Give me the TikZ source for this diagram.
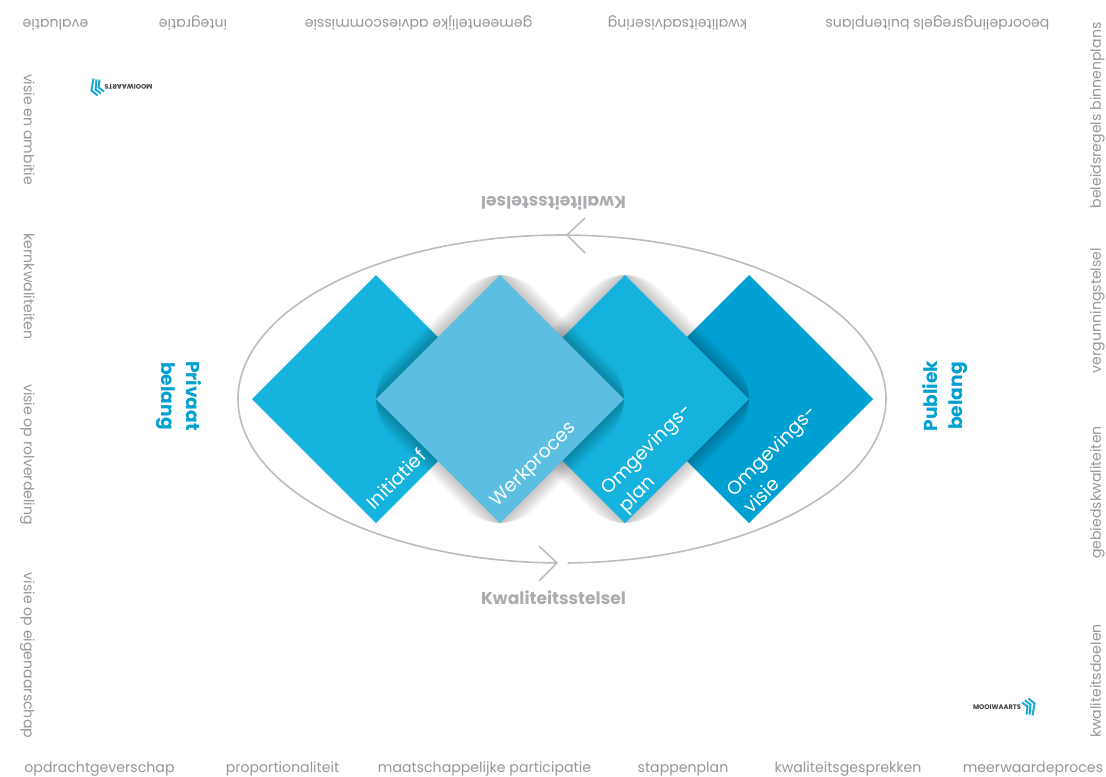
\documentclass[tikz,border=0pt]{standalone}
\usepackage{fontspec}
\setmainfont{Poppins}
\usetikzlibrary{shapes.geometric}
\definecolor{cyanA}{HTML}{14B2DC}
\definecolor{cyanB}{HTML}{5CBFE1}
\definecolor{cyanC}{HTML}{00A0D3}
\definecolor{ringgray}{HTML}{BDBDBD}
\definecolor{boldgray}{HTML}{ABABB0}
\definecolor{edgegray}{HTML}{969696}
\definecolor{logoblue}{HTML}{1AA7D6}
\tikzset{
  ruit/.style={shape=diamond,aspect=1,inner sep=0pt,outer sep=0pt,minimum width=186pt,minimum height=186pt},
  edgetxt/.style={text=edgegray,font=\fontsize{10.6}{12}\selectfont,inner sep=0pt,text height=8pt,text depth=2.5pt},
  topedge/.style={edgetxt,rotate=180},
  leftedge/.style={edgetxt,rotate=-90},
  rightedge/.style={edgetxt,rotate=90},
  ruitlabel/.style={text=white,font=\fontsize{14.1}{18.7}\selectfont,rotate=45,align=left,inner sep=0pt},
  sidelabel/.style={text=cyanC,font=\fontsize{14}{18.5}\selectfont\bfseries,align=center,inner sep=0pt},
  stelsel/.style={text=boldgray,font=\fontsize{12.85}{15}\selectfont\bfseries,inner sep=0pt},
  ring/.style={draw=ringgray,line width=1.2pt},
  ringhead/.style={draw=ringgray,line width=1.2pt,line join=miter},
  softshade/.style={fill=black,opacity=0.022},
  logotxt/.style={text=black!75,font=\fontsize{5}{5}\selectfont\bfseries,inner sep=0pt},
  chev/.style={draw=logoblue,line width=1.5pt}
}
\newcommand{\softshadow}[2]{%
  \foreach \d in {1,3,...,21}{%
    \fill[softshade,rounded corners=1.8*\d pt] (#1-124-\d,#2) -- (#1,#2-124-\d) -- (#1+124+\d,#2) -- (#1,#2+124+\d) -- cycle;
  }%
}
\begin{document}
\begin{tikzpicture}[x=0.75pt,y=-0.75pt]
\useasboundingbox (0,0) rectangle (1106,776);
% ring
\draw[ring] plot[domain=-89:89,samples=120] ({562+324*cos(\x)},{399+164*sin(\x)});
\draw[ring] plot[domain=91:271,samples=120] ({562+324*cos(\x)},{399+164*sin(\x)});
\coordinate (topTip) at (567,235);
\coordinate (topA) at (585,218);
\coordinate (topB) at (585,253);
\coordinate (botTip) at (557,563);
\coordinate (botA) at (539,546);
\coordinate (botB) at (539,581);
\draw[ringhead] (topA) -- (topTip) -- (topB);
\draw[ringhead] (botA) -- (botTip) -- (botB);
% diamonds
\node[ruit,fill=cyanC] (d4) at (749,399) {};
\softshadow{625}{399}
\node[ruit,fill=cyanA] (d3) at (625,399) {};
\node[ruit,fill=cyanA] (d1) at (376,399) {};
\softshadow{500}{399}
\node[ruit,fill=cyanB] (d2) at (500,399) {};
\node[ruitlabel] (l1) at (396,479) {Initiatief};
\node[ruitlabel] (l2) at (534,465) {Werkproces};
\node[ruitlabel] (l3) at (656,459) {Omgevings-\\plan};
\node[ruitlabel] (l4) at (780,459) {Omgevings-\\visie};
% side labels
\node[sidelabel,rotate=-90] (priv) at (179,396) {Privaat\\belang};
\node[sidelabel,rotate=90] (publ) at (945,396) {Publiek\\belang};
\node[stelsel] (ks1) at (553.5,598) {Kwaliteitsstelsel};
\node[stelsel,rotate=180] (ks2) at (553.5,203.5) {Kwaliteitsstelsel};
% top
\node[topedge] (t1) at (55.5,22.7) {evaluatie};
\node[topedge] (t2) at (193,22.7) {integratie};
\node[topedge] (t3) at (418.5,22.7) {gemeentelijke adviescommissie};
\node[topedge] (t4) at (677.5,22.7) {kwaliteitsadvisering};
\node[topedge] (t5) at (937.5,22.7) {beoordelingsregels buitenplans};
% bottom
\node[edgetxt] (b1) at (99.5,769.3) {opdrachtgeverschap};
\node[edgetxt] (b2) at (282.5,769.3) {proportionaliteit};
\node[edgetxt] (b3) at (484.5,769.3) {maatschappelijke participatie};
\node[edgetxt] (b4) at (683,769.3) {stappenplan};
\node[edgetxt] (b5) at (848,769.3) {kwaliteitsgesprekken};
\node[edgetxt] (b6) at (1033,769.3) {meerwaardeproces};
% left
\node[leftedge] (le1) at (27.5,129.5) {visie en ambitie};
\node[leftedge] (le2) at (27.5,286.5) {kernkwaliteiten};
\node[leftedge] (le3) at (27.5,454.5) {visie op rolverdeling};
\node[leftedge] (le4) at (27.5,655.5) {visie op eigenaarschap};
% right
\node[rightedge] (r1) at (1097.3,115.5) {beleidsregels binnenplans};
\node[rightedge] (r2) at (1097.3,310.5) {vergunningstelsel};
\node[rightedge] (r3) at (1097.3,492.5) {gebiedskwaliteiten};
\node[rightedge] (r4) at (1097.3,681) {kwaliteitsdoelen};
% logos
\begin{scope}[shift={(1003.5,707.5)}]
  \node[logotxt] (logoB) at (-6.5,0) {MOOIWAARTS};
  \draw[chev] (18.5,-5) -- (24,-1) -- (23,7);
  \draw[chev] (21.5,-7) -- (27,-3) -- (26,7);
  \draw[chev] (25,-9) -- (31,-4) -- (29,8);
\end{scope}
\begin{scope}[shift={(122.5,86.5)},rotate=180]
  \node[logotxt,rotate=180] (logoT) at (-6,0) {MOOIWAARTS};
  \draw[chev] (18.5,-5) -- (24,-1) -- (23,7);
  \draw[chev] (21.5,-7) -- (27,-3) -- (26,7);
  \draw[chev] (25,-9) -- (31,-4) -- (29,8);
\end{scope}
\end{tikzpicture}
\end{document}
